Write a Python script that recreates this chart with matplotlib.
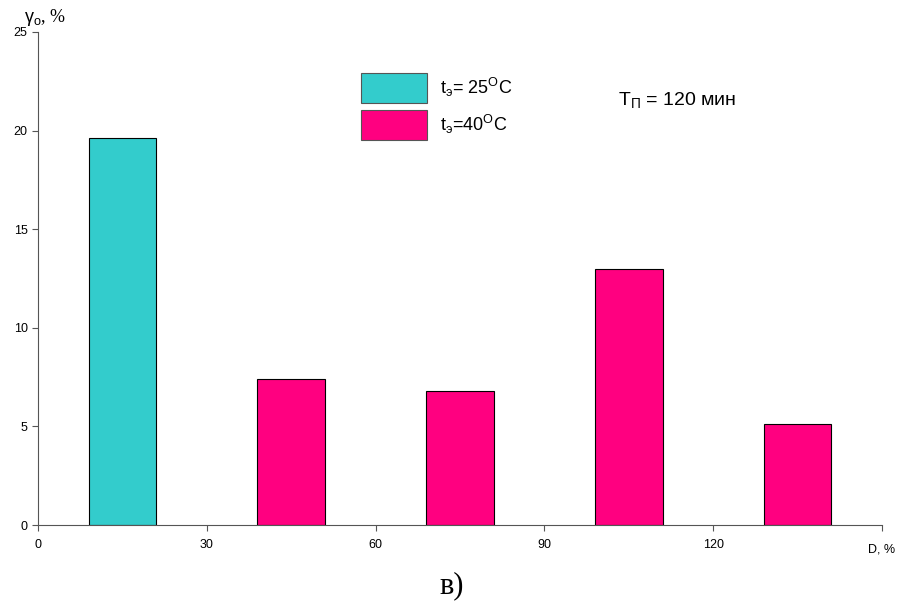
import matplotlib
matplotlib.use("Agg")
import matplotlib.pyplot as plt
from matplotlib.patches import Patch

plt.rcParams['font.family'] = ['Liberation Sans', 'DejaVu Sans']
plt.rcParams['mathtext.fontset'] = 'custom'
plt.rcParams['mathtext.rm'] = 'Liberation Sans'
plt.rcParams['mathtext.it'] = 'Liberation Sans'

# fractions by grain size, D %
d_left = [9, 39, 69, 99, 129]
bar_width = 12
gamma = [19.6, 7.4, 6.8, 13.0, 5.1]
series = ['25', '40', '40', '40', '40']
colors = {'25': '#33CCCC', '40': '#FF0080'}

x_ticks = [0, 30, 60, 90, 120]
y_ticks = [0, 5, 10, 15, 20, 25]

fig = plt.figure(figsize=(9.03, 6.04), dpi=100)
ax = fig.add_axes([38 / 903, 1 - 525 / 604, (882 - 38) / 903, (525 - 32) / 604])

ax.bar(d_left, gamma, width=bar_width, align='edge',
       color=[colors[s] for s in series], edgecolor='black', linewidth=0.8)

ax.set_xlim(0, 150)
ax.set_ylim(0, 25)
ax.set_xticks(x_ticks + [150])
ax.set_xticklabels([str(t) for t in x_ticks] + [''])
ax.set_yticks(y_ticks)
ax.tick_params(labelsize=9, length=4, width=0.8, color='#555555')
ax.tick_params(axis='x', pad=6)
for side in ('top', 'right'):
    ax.spines[side].set_visible(False)
for side in ('left', 'bottom'):
    ax.spines[side].set_color('#555555')

ax.text(150, -0.95, 'D, %', fontsize=9, ha='center', va='top')
fig.text(24 / 903, 1 - 18 / 604, r'$\gamma_{\rm o}$, %', fontsize=13,
         family='Liberation Serif', ha='left', va='center')

handles = [Patch(facecolor=colors['25'], edgecolor='#555555', linewidth=0.8),
           Patch(facecolor=colors['40'], edgecolor='#555555', linewidth=0.8)]
labels = [r't$_{\rm э}$= 25$^{\rm O}$C', r't$_{\rm э}$=40$^{\rm O}$C']
fig.legend(handles, labels, loc='upper left',
           bbox_to_anchor=(361 / 903, 1 - 73 / 604), frameon=False,
           fontsize=13, handlelength=3.65, handleheight=2.18,
           labelspacing=0.39, borderpad=0, borderaxespad=0, handletextpad=0.7)

fig.text(618 / 903, 1 - 100 / 604, r'T$_{\rm П}$ = 120 мин', fontsize=14,
         ha='left', va='center')

fig.text(452 / 903, 1 - 586 / 604, 'в)', fontsize=22,
         family='Liberation Serif', ha='center', va='center')

fig.savefig('out.png', dpi=100)
